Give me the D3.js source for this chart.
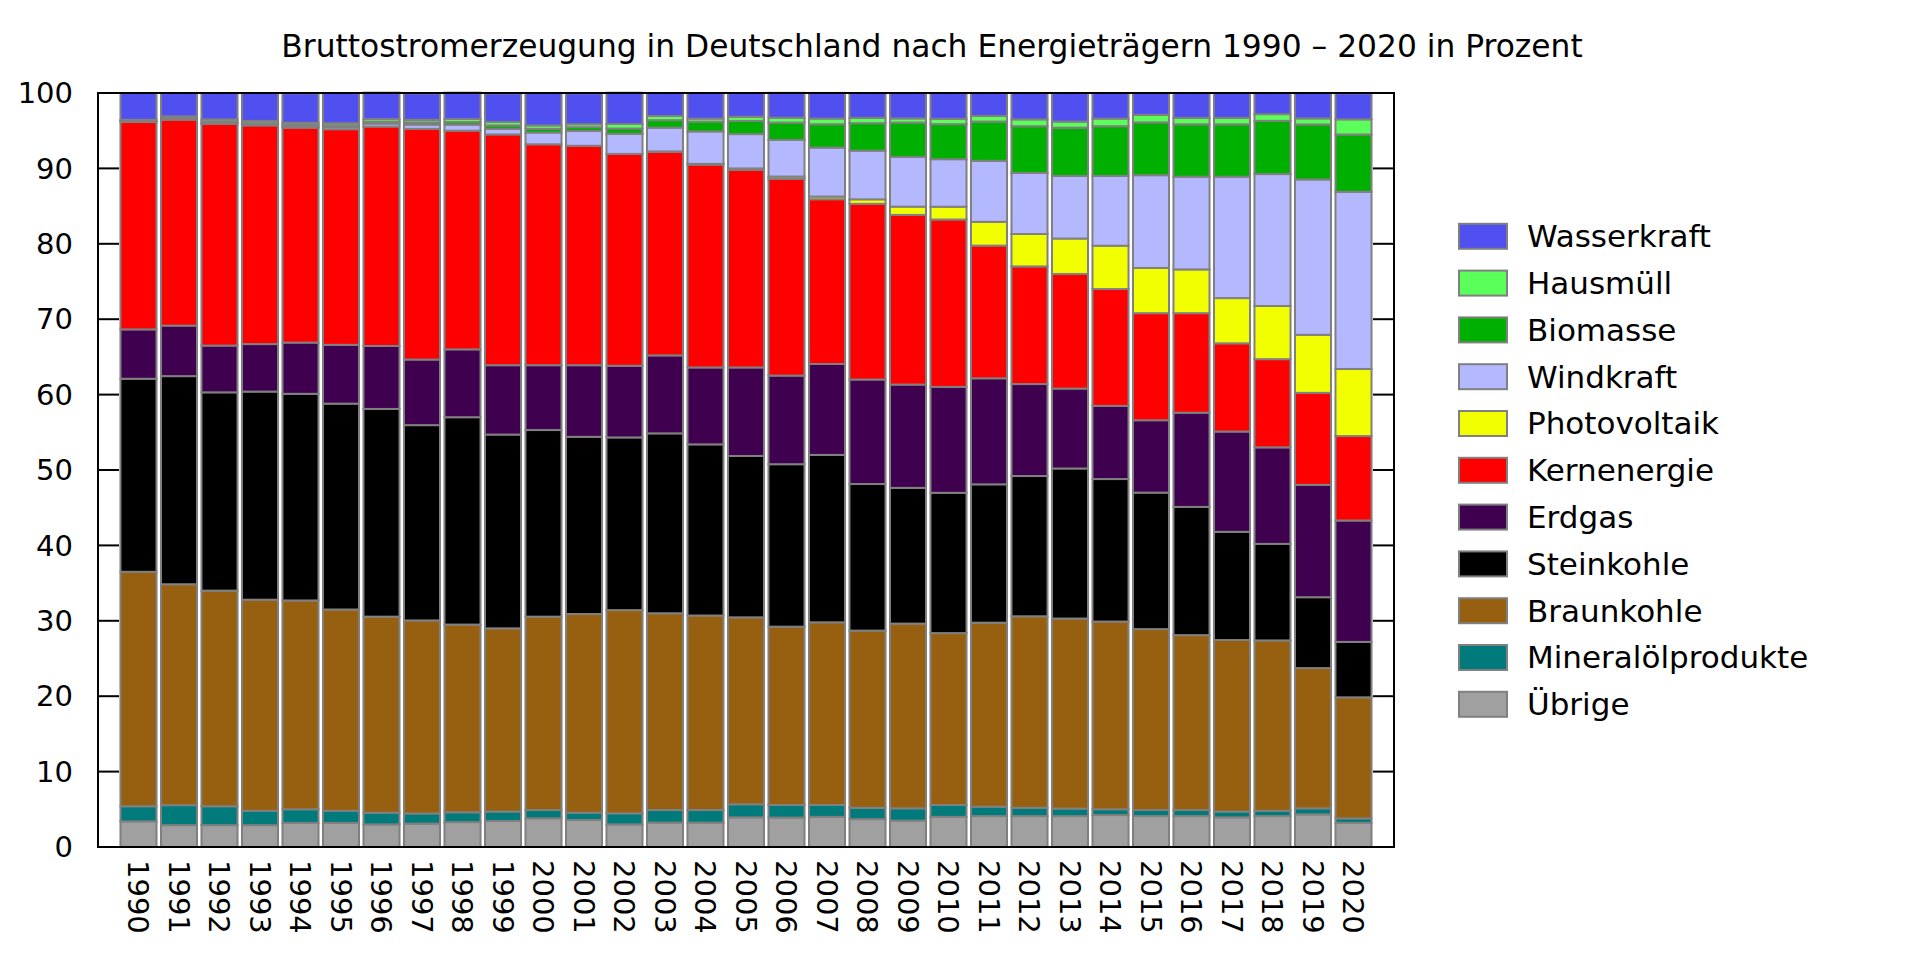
<!DOCTYPE html>
<html><head><meta charset="utf-8">
<script src="https://cdn.jsdelivr.net/npm/d3@7"></script>
<style>
body{margin:0;background:#fff}
svg{display:block}
text{font-family:"DejaVu Sans",sans-serif;fill:#000}
</style>
</head><body>
<svg id="chart" width="1920" height="960"></svg>
<script>
const chartTitle = "Bruttostromerzeugung in Deutschland nach Energieträgern 1990 – 2020 in Prozent";
const years = [1990,1991,1992,1993,1994,1995,1996,1997,1998,1999,2000,2001,2002,2003,2004,2005,2006,2007,2008,2009,2010,2011,2012,2013,2014,2015,2016,2017,2018,2019,2020];
const uebrige      = [3.4,2.9,2.9,2.9,3.2,3.2,3.0,3.1,3.3,3.45,3.8,3.58,3.0,3.23,3.23,3.93,3.9,4.0,3.7,3.5,4.0,4.1,4.1,4.1,4.24,4.1,4.1,3.93,4.1,4.33,3.2];
const mineraloel   = [2.0,2.65,2.5,1.9,1.8,1.6,1.55,1.35,1.3,1.25,1.1,0.97,1.47,1.67,1.67,1.73,1.67,1.57,1.5,1.63,1.57,1.25,1.1,1.0,0.76,0.8,0.8,0.77,0.7,0.8,0.6];
const braunkohle   = [31.1,29.3,28.6,28.0,27.7,26.7,26.0,25.6,24.9,24.3,25.65,26.35,26.95,26.1,25.8,24.8,23.65,24.23,23.5,24.5,22.8,24.4,25.4,25.2,24.9,24.0,23.2,22.75,22.6,18.6,16.05];
const steinkohle   = [25.6,27.6,26.3,27.6,27.4,27.3,27.55,25.9,27.5,25.7,24.75,23.5,22.9,23.86,22.7,21.4,21.55,22.2,19.44,18.0,18.6,18.35,18.6,19.9,18.9,18.1,17.0,14.35,12.8,9.4,7.35];
const erdgas       = [6.55,6.7,6.2,6.3,6.8,7.8,8.35,8.7,9.0,9.2,8.6,9.5,9.5,10.34,10.2,11.74,11.75,12.06,13.86,13.7,14.05,14.06,12.2,10.6,9.7,9.6,12.5,13.3,12.8,14.9,16.1];
const kernenergie  = [27.5,27.3,29.4,29.0,28.5,28.6,29.1,30.6,29.0,30.6,29.3,29.1,28.1,27.0,26.9,26.2,26.1,21.85,23.3,22.5,22.2,17.6,15.6,15.2,15.5,14.2,13.2,11.7,11.7,12.2,11.2];
const photovoltaik = [0,0,0,0,0,0,0,0,0,0,0,0,0,0.05,0.1,0.2,0.3,0.35,0.6,1.1,1.7,3.15,4.3,4.7,5.75,6.0,5.8,6.0,7.05,7.7,8.9];
const windkraft    = [0,0,0.05,0.1,0.16,0.3,0.4,0.55,0.8,0.75,1.55,1.96,2.67,3.15,4.3,4.55,4.85,6.5,6.45,6.6,6.3,8.1,8.1,8.3,9.25,12.3,12.3,16.1,17.5,20.6,23.5];
const biomasse     = [0.1,0.2,0.25,0.2,0.2,0.2,0.25,0.3,0.35,0.45,0.5,0.5,0.7,1.0,1.3,1.75,2.3,3.1,3.65,4.55,4.65,5.2,6.2,6.4,6.6,7.0,6.95,6.95,7.05,7.3,7.6];
const hausmuell    = [0.2,0.25,0.3,0.3,0.3,0.3,0.35,0.35,0.4,0.45,0.45,0.4,0.6,0.55,0.4,0.55,0.65,0.75,0.7,0.55,0.7,0.75,0.9,0.8,1.0,1.0,0.85,0.85,0.9,0.8,2.0];
const wasserkraft  = [3.55,3.1,3.5,3.7,3.9,4.0,3.5,3.5,3.5,3.8,4.3,4.1,4.15,3.05,3.4,3.15,3.3,3.4,3.3,3.37,3.43,3.04,3.5,3.8,3.4,2.9,3.3,3.3,2.8,3.37,3.45];
const seriesNames  = ["Übrige","Mineralölprodukte","Braunkohle","Steinkohle","Erdgas","Kernenergie","Photovoltaik","Windkraft","Biomasse","Hausmüll","Wasserkraft"];
const seriesValues = [uebrige,mineraloel,braunkohle,steinkohle,erdgas,kernenergie,photovoltaik,windkraft,biomasse,hausmuell,wasserkraft];
const seriesColors = ["#a0a0a0","#007a7a","#966010","#000000","#400050","#ff0000","#f2ff00","#b4b8ff","#00b000","#5aff5a","#5050f0"];
const yTicks = [0,10,20,30,40,50,60,70,80,90,100];

const L = 98, R = 1394, T = 93, B = 847;
const svg = d3.select("#chart");

const rows = years.map((yr, i) => {
  const r = {year: yr};
  seriesNames.forEach((n, k) => r[n] = seriesValues[k][i]);
  return r;
});
const stacked = d3.stack().keys(seriesNames)(rows);

const x = d3.scaleBand().domain(years).range([L, R]).paddingInner(0.11).paddingOuter(0.555);
const y = d3.scaleLinear().domain([0, 100]).range([B, T]);
const color = d3.scaleOrdinal().domain(seriesNames).range(seriesColors);

// title
svg.append("text").attr("x", 932).attr("y", 57).attr("text-anchor", "middle")
  .style("font-size", "31.3px").text(chartTitle);

// inner ticks left & right
const tg = svg.append("g");
tg.selectAll("line.l").data(yTicks).join("line").attr("class","l")
  .attr("x1", L).attr("x2", L + 21).attr("y1", d => y(d)).attr("y2", d => y(d))
  .attr("stroke", "#000").attr("stroke-width", 2);
tg.selectAll("line.r").data(yTicks).join("line").attr("class","r")
  .attr("x1", R - 21).attr("x2", R).attr("y1", d => y(d)).attr("y2", d => y(d))
  .attr("stroke", "#000").attr("stroke-width", 2);

// bars
svg.append("g").selectAll("g").data(stacked).join("g")
  .attr("fill", d => color(d.key))
  .selectAll("rect").data(d => d).join("rect")
  .attr("x", d => x(d.data.year))
  .attr("width", x.bandwidth())
  .attr("y", d => y(d[1]))
  .attr("height", d => Math.max(0, y(d[0]) - y(d[1])))
  .attr("stroke", "#808080").attr("stroke-width", 2);

// frame
svg.append("rect").attr("x", L).attr("y", T).attr("width", R - L).attr("height", B - T)
  .attr("fill", "none").attr("stroke", "#000").attr("stroke-width", 2);

// y labels
svg.append("g").selectAll("text").data(yTicks).join("text")
  .attr("x", 73).attr("y", d => y(d)).attr("dy", "0.35em").attr("text-anchor", "end")
  .style("font-size", "29px").text(d => d);

// x labels rotated
svg.append("g").selectAll("text").data(years).join("text")
  .attr("transform", d => `translate(${x(d) + x.bandwidth() / 2},860) rotate(90)`)
  .attr("dy", "0.35em").attr("text-anchor", "start")
  .style("font-size", "29px").text(d => d);

// legend
const legendOrder = seriesNames.slice().reverse();
const lg = svg.append("g").selectAll("g").data(legendOrder).join("g")
  .attr("transform", (d, i) => `translate(1459,${236.3 + i * 46.8})`);
lg.append("rect").attr("y", -12.5).attr("width", 48).attr("height", 25)
  .attr("fill", d => color(d)).attr("stroke", "#808080").attr("stroke-width", 2);
lg.append("text").attr("x", 68).attr("y", 0).attr("dy", "0.35em")
  .style("font-size", "31px").text(d => d);
</script>
</body></html>
